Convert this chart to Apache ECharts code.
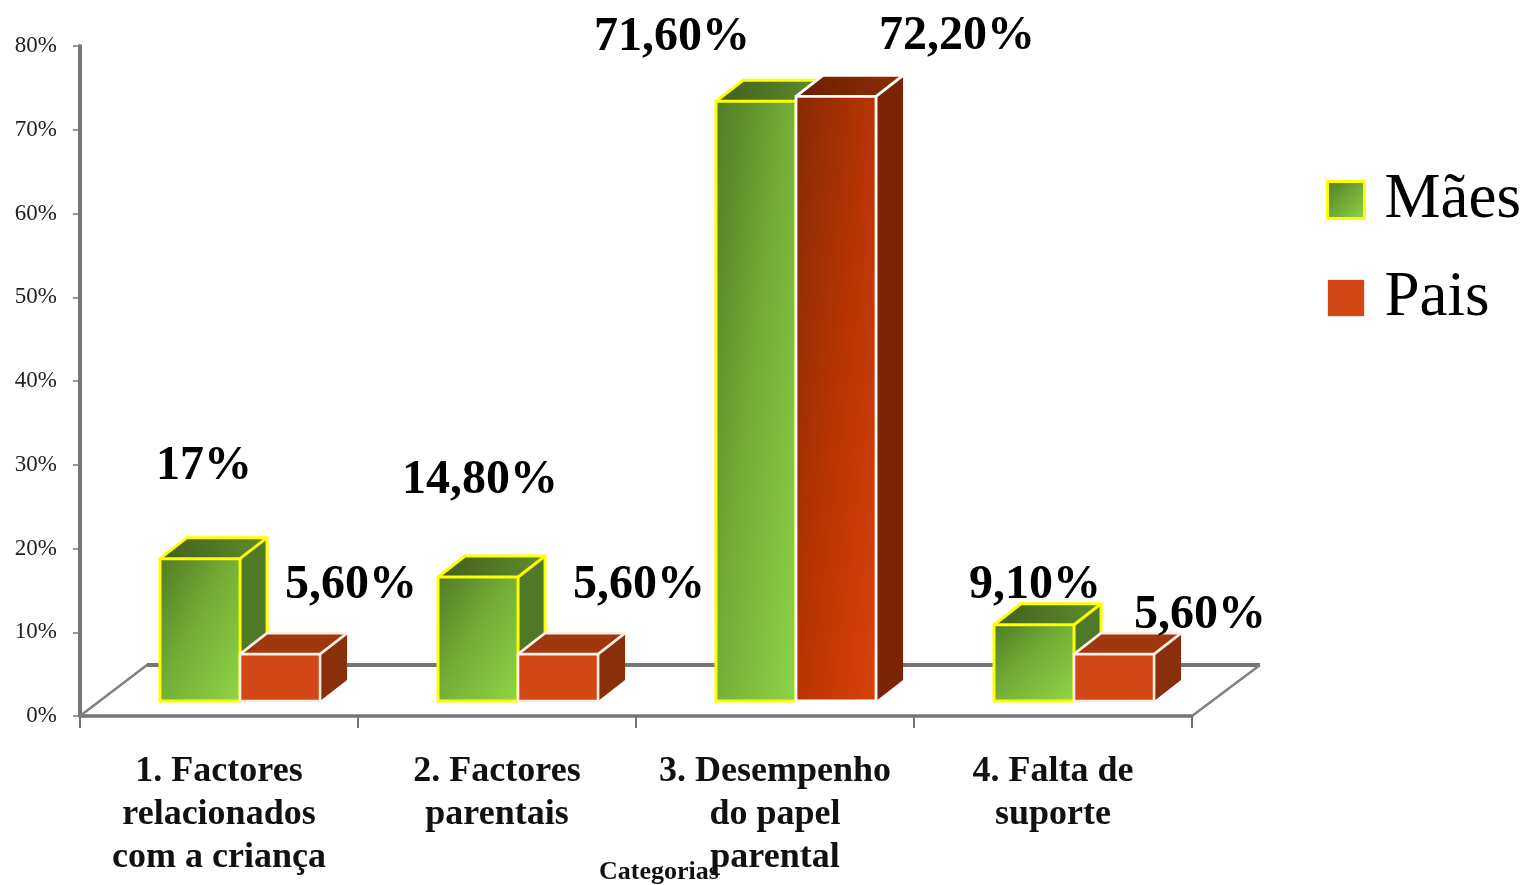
<!DOCTYPE html>
<html><head><meta charset="utf-8">
<style>html,body{margin:0;padding:0;background:#fff}#c{width:1529px;height:885px}</style>
<script src="https://cdn.jsdelivr.net/npm/echarts@6/dist/echarts.min.js"></script>
</head><body><div id="c"></div>
<script>
const categories = ["1. Factores\nrelacionados\ncom a criança", "2. Factores\nparentais", "3. Desempenho\ndo papel\nparental", "4. Falta de\nsuporte"];
const maes = [17, 14.8, 71.6, 9.1];
const pais = [5.6, 5.6, 72.2, 5.6];
const maesLabels = ["17%", "14,80%", "71,60%", "9,10%"];
const paisLabels = ["5,60%", "5,60%", "72,20%", "5,60%"];
const yTicks = [0, 10, 20, 30, 40, 50, 60, 70, 80];

// label placement relative to the bar's front-top centre
const maesNudge = [[4, -92], [2, -96], [-84, -64], [1, -39]];
const paisNudge = [[71, -69], [81, -69], [121, -60], [86, -39]];

const SERIF = '"Liberation Serif", serif';
const lg = (c0, c1, x2 = 1, y2 = 1) => ({type: 'linear', x: 0, y: 0, x2, y2, colorStops: [{offset: 0, color: c0}, {offset: 1, color: c1}]});
// gradient whose mid line runs corner to corner, whatever the box's proportions
const diag = (c0, cm, c1, w, h) => {
  const q = w * w + h * h;
  return {type: 'linear', x: 0, y: 0, x2: 2 * h * h / q, y2: 2 * w * w / q,
    colorStops: [{offset: 0, color: c0}, {offset: 0.5, color: cm}, {offset: 1, color: c1}]};
};

const DEPTH_X = 27, DEPTH_Y = 21, LIFT = 15;

const styles = {
  maes: (w, h) => ({
    stroke: '#ffff00', lw: 3,
    front: diag('#527a26', '#76b138', '#90d646', w, h),
    top: lg('#425f1d', '#5f8d2d', 1, 0),
    side: '#4f7827'
  }),
  pais: (w, h) => h > 200 ? ({
    stroke: '#ffffff', lw: 2.8,
    front: diag('#852904', '#b93504', '#de420a', w, h),
    top: lg('#6a2000', '#8c2e06', 1, 0),
    side: '#7c2506'
  }) : ({
    stroke: '#fdeee6', lw: 2.6,
    front: '#d34817',
    top: '#a0370f',
    side: '#8a2f0c'
  })
};

function barRenderer(offsetBars, labels, nudge, isMaes) {
  return function (params, api) {
    const i = api.value(0), v = api.value(1);
    const cx = api.coord([i, 0])[0];
    const band = api.size([1, 0])[0];
    const w = band * 0.288;
    const x0 = cx + offsetBars * w;
    const y0 = api.coord([i, 0])[1] - LIFT;
    const y1 = api.coord([i, v])[1] - LIFT;
    const x1 = x0 + w;
    const s = isMaes ? styles.maes(w, y0 - y1) : styles.pais(w, y0 - y1);
    const n = nudge[i];
    return {
      type: 'group',
      children: [
        {type: 'polygon', shape: {points: [[x1, y1], [x1 + DEPTH_X, y1 - DEPTH_Y], [x1 + DEPTH_X, y0 - DEPTH_Y], [x1, y0]]}, style: {fill: s.side}},
        {type: 'polygon', shape: {points: [[x0, y1], [x0 + DEPTH_X, y1 - DEPTH_Y], [x1 + DEPTH_X, y1 - DEPTH_Y], [x1, y1]]}, style: {fill: s.top}},
        {type: 'polyline', shape: {points: [[x0, y1], [x0 + DEPTH_X, y1 - DEPTH_Y], [x1 + DEPTH_X, y1 - DEPTH_Y], [x1 + DEPTH_X, isMaes ? y0 - DEPTH_Y - 10 : y1 - DEPTH_Y]]}, style: {fill: null, stroke: s.stroke, lineWidth: s.lw}},
        {type: 'line', shape: {x1: x1, y1: y1, x2: x1 + DEPTH_X, y2: y1 - DEPTH_Y}, style: {stroke: s.stroke, lineWidth: s.lw}},
        {type: 'rect', shape: {x: x0, y: y1, width: w, height: y0 - y1}, style: {fill: s.front, stroke: s.stroke, lineWidth: s.lw}},
        {type: 'text', z2: 50, x: (x0 + x1) / 2 + n[0], y: y1 + n[1], style: {text: labels[i], font: 'bold 48px ' + SERIF, fill: '#000', align: 'center', verticalAlign: 'middle'}}
      ]
    };
  };
}

function floorRenderer(params) {
  const c = params.coordSys;
  const l = c.x, r = c.x + c.width, b = c.y + c.height, bk = b - 51;
  const col = '#808080';
  return {
    type: 'group',
    children: [
      {type: 'polyline', shape: {points: [[l, b], [l + 67, bk], [l + 90, bk]]}, style: {fill: null, stroke: col, lineWidth: 2.4}},
      {type: 'line', shape: {x1: l + 67, y1: bk, x2: r + 68, y2: bk}, style: {stroke: '#757575', lineWidth: 4}},
      {type: 'line', shape: {x1: r + 68, y1: bk, x2: r, y2: b}, style: {stroke: col, lineWidth: 2.4}}
    ]
  };
}

const chart = echarts.init(document.getElementById('c'), null, {renderer: 'canvas'});
chart.setOption({
  animation: false,
  backgroundColor: '#fff',
  grid: {left: 80, right: 337, top: 46, bottom: 169, containLabel: false, outerBoundsMode: 'none'},
  xAxis: {
    type: 'category', data: categories, boundaryGap: true,
    name: 'Categorias', nameLocation: 'middle', nameGap: 143, nameMoveOverlap: false,
    nameTextStyle: {fontFamily: SERIF, fontWeight: 'bold', fontSize: 26, color: '#111', padding: [0, 0, 0, 46]},
    axisLine: {show: true, lineStyle: {color: '#757575', width: 3.5}},
    axisTick: {show: true, alignWithLabel: false, length: 12, lineStyle: {color: '#757575', width: 2}},
    axisLabel: {interval: 0, margin: 34, fontFamily: SERIF, fontWeight: 'bold', fontSize: 36, lineHeight: 43, color: '#111'},
    splitLine: {show: false}
  },
  yAxis: {
    type: 'value', min: 0, max: 80, interval: 10,
    axisLine: {show: true, lineStyle: {color: '#757575', width: 4}},
    axisTick: {show: true, length: 7, lineStyle: {color: '#757575', width: 1.5}},
    axisLabel: {margin: 23, fontFamily: SERIF, fontSize: 23, color: '#222', padding: [6, 0, 0, 0], formatter: v => yTicks.includes(v) ? v + '%' : ''},
    splitLine: {show: false}
  },
  legend: {
    orient: 'vertical', left: 1326, top: 165, padding: 0, itemWidth: 37, itemHeight: 37, itemGap: 28, icon: 'rect',
    textStyle: {fontFamily: SERIF, fontSize: 63, color: '#000', lineHeight: 70, padding: [0, 0, 0, 15]},
    selectedMode: false,
    data: [
      {name: 'Mães', icon: 'rect', itemStyle: {color: lg('#527a26', '#90d646'), borderColor: '#ffff00', borderWidth: 3}},
      {name: 'Pais', icon: 'rect', itemStyle: {color: '#d34817', borderColor: '#fbe3d8', borderWidth: 1}}
    ]
  },
  series: [
    {type: 'custom', name: 'floor', z: 1, silent: true, renderItem: floorRenderer, data: [[0, 0]]},
    {type: 'custom', name: 'Mães', z: 3, clip: false, silent: true, renderItem: barRenderer(-59 / 80.06, maesLabels, maesNudge, true),
     encode: {x: 0, y: 1}, data: maes.map((v, i) => [i, v])},
    {type: 'custom', name: 'Pais', z: 4, clip: false, silent: true, renderItem: barRenderer(21 / 80.06, paisLabels, paisNudge, false),
     encode: {x: 0, y: 1}, data: pais.map((v, i) => [i, v])}
  ]
});
</script></body></html>
